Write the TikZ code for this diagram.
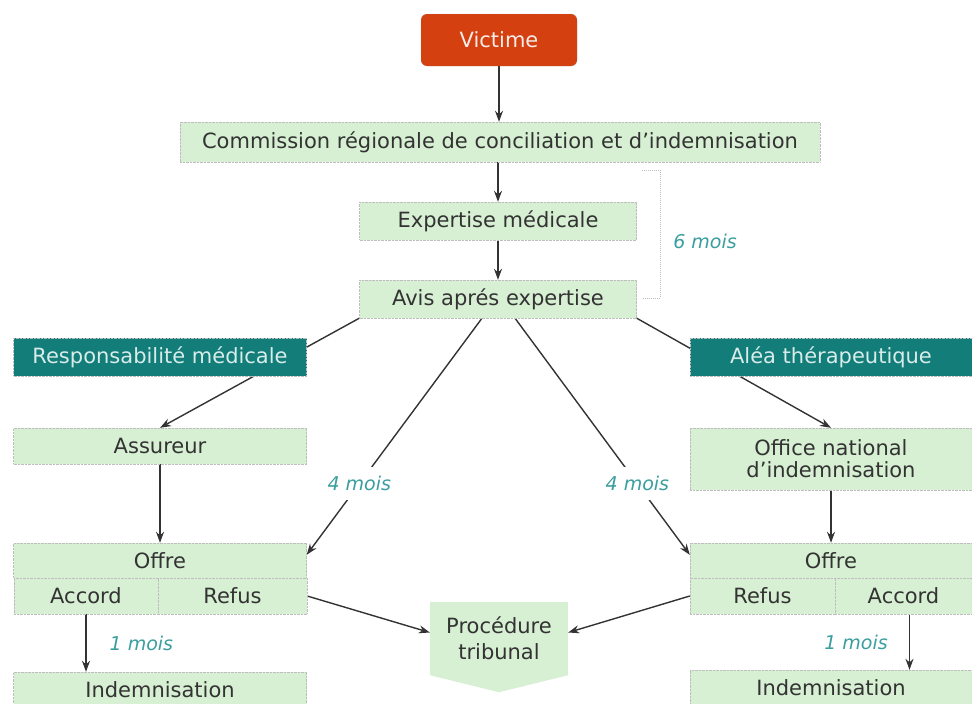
\documentclass[tikz,border=0pt]{standalone}
\usepackage{fontspec}
\setmainfont{DejaVu Sans}
\usetikzlibrary{arrows.meta, positioning, calc, backgrounds}
\definecolor{CrciGreen}{HTML}{D7F0D3}
\definecolor{CrciTeal}{HTML}{127D79}
\definecolor{CrciRed}{HTML}{D4400F}
\definecolor{CrciLabel}{HTML}{3A9D9E}
\definecolor{CrciText}{HTML}{333333}
\definecolor{CrciEdge}{HTML}{BDBDBD}
\definecolor{CrciLight}{HTML}{D8ECEA}
\tikzset{
    % Node styles
    greenbox/.style={
        rectangle,
        draw=CrciEdge,
        densely dotted,
        fill=CrciGreen,
        text=CrciText,
        minimum width=293pt,
        minimum height=38pt,
        inner sep=2pt,
        align=center,
        font=\fontsize{21}{22}\selectfont
    },
    tealbox/.style={
        greenbox,
        fill=CrciTeal,
        text=CrciLight
    },
    victimbox/.style={
        greenbox,
        draw=gray,
        rounded corners=6pt,
        fill=CrciRed,
        text=CrciLight!60!CrciRed!20,
        minimum width=156pt,
        minimum height=52pt
    },
    % Delay labels
    delay/.style={
        text=CrciLabel,
        font=\fontsize{19}{21}\selectfont\itshape,
        inner sep=3pt
    },
    % Arrow styles
    myarrow/.style={
        -{Stealth[length=11pt,width=8pt]},
        line width=1.4pt,
        CrciText
    },
    bracket/.style={
        draw=CrciEdge,
        densely dotted,
        line width=1pt
    }
}
\begin{document}
\begin{tikzpicture}[x=1pt, y=-1pt]
    \useasboundingbox (0,0) rectangle (972,704);

    % Main chain
    \node[victimbox] (victime) at (499,40) {Victime};
    \node[greenbox, minimum width=640pt, minimum height=40pt] (crci) at (500,142) {Commission régionale de conciliation et d’indemnisation};
    \node[greenbox, minimum width=277pt] (expertise) at (498,221) {Expertise médicale};
    \node[greenbox, minimum width=277pt] (avis) at (498,299) {Avis aprés expertise};

    % Six month bracket
    \draw[bracket] (642,170) -- (660,170) -- (660,298) -- (642,298);
    \node[delay] (sixmois) at (705,241) {6 mois};

    % Two branches
    \node[tealbox] (respmed) at (160,357) {Responsabilité médicale};
    \node[tealbox, minimum width=282pt] (alea) at (831,357) {Aléa thérapeutique};
    \node[greenbox, minimum height=36pt] (assureur) at (160,446) {Assureur};
    \node[greenbox, minimum width=282pt, minimum height=62pt] (office) at (831,459) {Office national\\d’indemnisation};

    % Offers
    \node[greenbox, minimum height=35pt] (offreL) at (160,560.5) {Offre};
    \node[greenbox, minimum width=144pt, minimum height=36pt] (accordL) at (86,596) {Accord};
    \node[greenbox, minimum width=149pt, minimum height=36pt] (refusL) at (232.5,596) {Refus};
    \node[greenbox, minimum width=282pt, minimum height=35pt] (offreR) at (831,560.5) {Offre};
    \node[greenbox, minimum width=145pt, minimum height=36pt] (refusR) at (762.5,596) {Refus};
    \node[greenbox, minimum width=137pt, minimum height=36pt] (accordR) at (903.5,596) {Accord};

    % Outcomes
    \node[greenbox, minimum height=36pt] (indemL) at (160,690) {Indemnisation};
    \node[greenbox, minimum width=282pt, minimum height=36pt] (indemR) at (831,688) {Indemnisation};
    \node[greenbox, draw=none, minimum width=138pt, minimum height=73pt, font=\fontsize{21}{26}\selectfont] (proc) at (499,638.5) {Procédure\\tribunal};
    \fill[CrciGreen] (proc.south west) -- (proc.south east) -- ($(proc.south)+(0,17)$) -- cycle;

    % Connectors
    \begin{scope}[on background layer]
        \draw[myarrow] (victime.south) -- (victime.south |- crci.north);
        \draw[myarrow] (crci.south -| expertise.north) -- (expertise.north);
        \draw[myarrow] (expertise.south) -- (avis.north);
        \draw[myarrow] (avis.south west) -- (assureur.north);
        \draw[myarrow] (avis.south east) -- (office.north);
        \draw[myarrow] ($(avis.south)+(-16,0)$) -- node[delay, fill=white, inner ysep=9pt, pos=0.7] (quatreL) {4 mois} ($(offreL.north east)+(0,12)$);
        \draw[myarrow] ($(avis.south)+(17,0)$) -- node[delay, fill=white, inner ysep=9pt, pos=0.7] (quatreR) {4 mois} ($(offreR.north west)+(0,12)$);
        \draw[myarrow] (assureur.south) -- (offreL.north);
        \draw[myarrow] (office.south) -- (offreR.north);
        \draw[myarrow] (refusL.east) -- ($(proc.west)+(0,-6)$);
        \draw[myarrow] (refusR.west) -- ($(proc.east)+(0,-6)$);
        \draw[myarrow] (accordL.south) -- node[delay, right=20pt] (unmoisL) {1 mois} (accordL.south |- indemL.north);
        \draw[myarrow] ($(accordR.south)+(6,0)$) -- node[delay, left=18pt] (unmoisR) {1 mois} ($(accordR.south |- indemR.north)+(6,0)$);
    \end{scope}
\end{tikzpicture}
\end{document}
